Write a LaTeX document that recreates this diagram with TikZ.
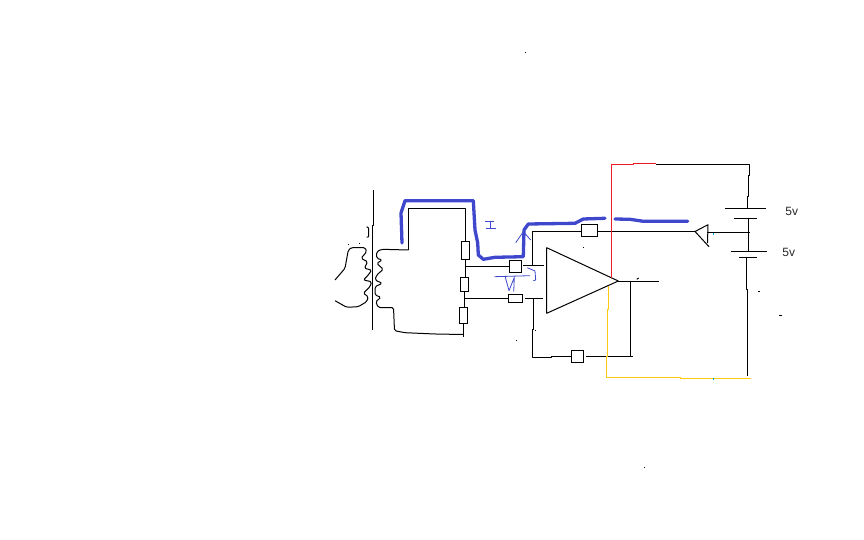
\documentclass[tikz,border=0pt]{standalone}
\usepackage{fontspec}
\setmainfont{Liberation Sans}
\usepackage{xcolor}
\usepackage{tikz}
\usetikzlibrary{positioning}
\definecolor{penblue}{HTML}{3F48CC}
\definecolor{penred}{HTML}{ED1C24}
\definecolor{penyellow}{HTML}{FFC90E}
\definecolor{pentick}{HTML}{00A2E8}

\begin{document}
\begin{tikzpicture}[x=1pt, y=-1pt,
    wire/.style={line width=1pt, line join=round},
    coil/.style={line width=1pt, line join=round, rounded corners=1.6pt},
    rect/.style={draw, line width=1pt, inner sep=0pt, outer sep=0pt},
    plate/.style={fill=black, inner sep=0pt, outer sep=0pt, minimum height=1pt},
    marker/.style={line width=3.3pt, penblue, line join=round, line cap=round},
    scribble/.style={line width=0.8pt, penblue, line join=round},
    speck/.style={fill=black, inner sep=0pt, minimum size=1pt},
    lbl/.style={font=\fontsize{12}{14}\selectfont, text=black!85}]
    \useasboundingbox (0,0) rectangle (864,540);

    % Draw rectangles
    \node (r1) [rect, minimum width=8pt, minimum height=18pt] at (465.5,250.5) {};
    \node (r2) [rect, minimum width=8pt, minimum height=14pt] at (464.5,284.5) {};
    \node (r3) [rect, minimum width=8pt, minimum height=16pt] at (463.5,315.5) {};
    \node (r4) [rect, minimum width=16pt, minimum height=12pt] at (589.5,230.5) {};
    \node (r5) [rect, minimum width=12pt, minimum height=12pt] at (515.5,266.5) {};
    \node (r6) [rect, minimum width=14pt, minimum height=8pt] at (515.5,298.5) {};
    \node (r7) [rect, minimum width=12pt, minimum height=12pt] at (577.5,356.5) {};

    % Draw labels
    \node (v1) [lbl] at (791.7,211.7) {5v};
    \node (v2) [lbl] at (788.7,252.7) {5v};

    % Amplifier and buffer corners
    \coordinate (ampa) at (546.7,247.7);
    \coordinate (ampb) at (546.7,313.3);
    \coordinate (ampc) at (618.3,281);
    \coordinate (bufa) at (708,224.7);
    \coordinate (bufb) at (709,246.7);
    \coordinate (bufc) at (695,231.5);
    \draw[wire] (ampa) -- (ampc) -- (ampb) -- cycle;
    \draw[wire] (bufb) -- (bufc) -- (bufa) -- (707.5,243);

    % Battery plates
    \node (b1) [plate, minimum width=41pt] at (745.5,208.5) {};
    \node (b2) [plate, minimum width=23pt] at (745.5,218.5) {};
    \node (b3) [plate, minimum width=36pt] at (749,251.5) {};
    \node (b4) [plate, minimum width=18pt] at (748,257.5) {};

    % Draw transformer
    \draw[wire] (373.5,190) -- (373.5,225.5) -- (372.5,225.5) -- (372.5,330);
    \draw[wire] (366.7,226.7) -- (368.5,228) -- (368.5,236.7) -- (366.7,237.3);
    \draw[coil] (408.5,250) -- (381.7,249.3) -- (376.7,251.7) -- (376.7,258.3) -- (382.3,260)
        -- (376.7,263.3) -- (383.3,269.3) -- (376.7,275) -- (375,280) -- (382.3,283.3)
        -- (375,286.7) -- (375,295) -- (381,297.3) -- (375.7,301.7) -- (378.3,307.5)
        -- (393.5,307.5) -- (394.5,330.7) -- (405,332.7) -- (435,334) -- (463.5,334.5);
    \draw[coil] (335,280) -- (345,268.3) -- (348.3,250) -- (351.7,247.5) -- (365,247.5)
        -- (366.7,251.7) -- (361,258.3) -- (367.7,261.7) -- (364.3,268.3) -- (371.7,270)
        -- (368.3,275) -- (363.3,280) -- (371.7,281.7) -- (370,286.7) -- (363.3,293.3)
        -- (368.3,296.7) -- (366.7,301.7) -- (358.3,306.7) -- (346.7,307.3) -- (335,300.7);

    % Draw wires
    \draw[wire] (408.5,250) -- (408.5,208.5) -- (465.5,208.5) -- (r1.north);
    \draw[wire] (r1.south) -- (r2.north -| r1.south);
    \draw[wire] (r2.south) -- (r3.north -| r2.south);
    \draw[wire] (r3.south) -- (463.5,336.7);
    \draw[wire] (465.5,266.5) -- (r5.west);
    \draw[wire] (463.5,298.5) -- (r6.west);
    \draw[wire] (523,265.5) -- (544,265.5);
    \draw[wire] (525,298.5) -- (542.5,298.5);
    \draw[wire] ([yshift=-1pt]r4.west) -- (532.5,231.5) -- (532.5,265.5);
    \draw[wire] (533.5,298.5) -- (533.5,329.5) -- (532.5,329.5) -- (532.5,357.5) -- (551,357.5) -- (551,356.5) -- (r7.west);
    \draw[wire] (586,356.5) -- (632.7,356.5);
    \draw[wire] (630.5,281.5) -- (630.5,356.5);
    \draw[wire] (ampc) -- (618.3,281.5) -- (658.7,281.5);
    \draw[wire] ([yshift=-1pt]r4.east) -- (bufc);
    \draw[wire] (707,232.5) -- (750,232.5);
    \draw[wire] (656,164.5) -- (749.5,164.5) -- (749.5,175.5) -- (748.5,175.5) -- (748.5,196.5)
        -- (747.5,196.5) -- (747.5,208.5);
    \draw[wire] (748.5,218.5) -- (748.5,251.5);
    \draw[wire] (746.5,257.5) -- (746.5,289.5) -- (747.5,289.5) -- (747.5,376);

    % Draw coloured wires
    \draw[wire, penred] (611.5,277.5) -- (611.5,164.5) -- (633.5,164.5) -- (633.5,163.5) -- (656,163.5);
    \draw[wire, penyellow] (608.5,285.7) -- (608.5,309.5) -- (607.5,309.5) -- (607.5,356.5)
        -- (606.5,356.5) -- (606.5,377.5) -- (680.5,377.5) -- (680.5,378.5) -- (751,378.5);

    % Draw blue marker
    \draw[marker] (402,243) -- (401,213) -- (405,200.7) -- (473.3,200.7) -- (475,230) -- (477.7,243)
        -- (478.3,255) -- (483.3,259.3) -- (495,257.3) -- (523.3,256.7) -- (524,230) -- (528.3,224)
        -- (575,223.3) -- (583.3,219) -- (605,218.3);
    \draw[marker] (615,219) -- (630,219.3) -- (643.3,221.3) -- (687.7,221.3);
    \draw[scribble] (485,221.5) -- (494.3,221.5) (490.5,221.5) -- (490.5,228.5) (485.7,228.5) -- (495.7,228.5);
    \draw[scribble] (515.7,242.7) -- (523.3,231.7) -- (530.7,240);
    \draw[scribble] (494.3,276.7) -- (530,275.7);
    \draw[scribble] (505,276) -- (509,290.7) -- (514.3,277.3) -- (513.7,291.7);
    \draw[scribble] (527.3,267.7) -- (535,271) -- (535.7,280) -- (533.3,280.7);

    % Draw specks
    \node (s1) [speck] at (525.5,52.5) {};
    \node (s2) [speck] at (644.5,467.5) {};
    \node (s3) [speck] at (516.5,340.5) {};
    \node (s4) [speck] at (535.5,330.5) {};
    \node (s5) [speck] at (583.5,247.5) {};
    \node (s6) [speck] at (348.5,244.5) {};
    \node (s7) [speck] at (359.5,243.5) {};
    \draw[wire] (636.7,279.3) -- (638.7,278);
    \draw[wire] (758,291.5) -- (760,291.5);
    \draw[wire] (779,315.5) -- (782,315.5);
    \draw[wire, pentick] (713.5,232.5) -- (713.5,234.5);
    \draw[wire, pentick] (713.5,377.5) -- (713.5,379.5);

\end{tikzpicture}
\end{document}
